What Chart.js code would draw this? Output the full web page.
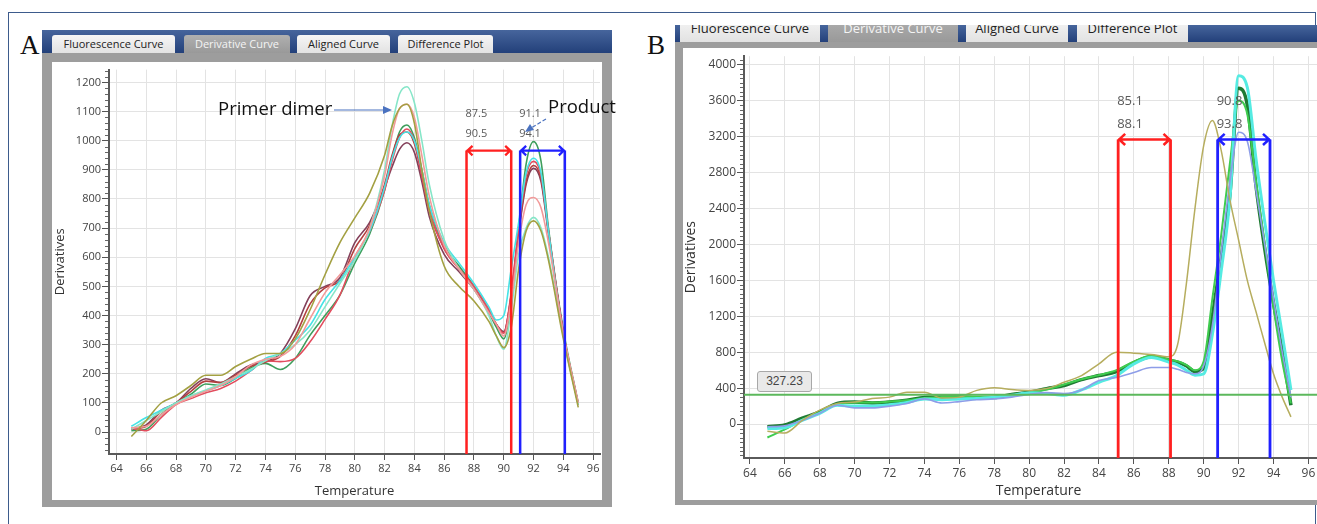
<!DOCTYPE html>
<html>
<head>
<meta charset="utf-8">
<script src="https://cdn.jsdelivr.net/npm/chart.js@4.4.0/dist/chart.umd.min.js"></script>
<style>
  html,body{margin:0;padding:0;background:#fff;overflow:hidden;width:1317px;height:524px;}
  body{position:relative;font-family:"Open Sans","Liberation Sans",sans-serif;}
  .abs{position:absolute;}
  .frame{position:absolute;left:8px;top:12px;width:1306px;height:530px;border:1.5px solid #3d5b8c;}
  .panelLabel{position:absolute;font-family:"Liberation Serif","DejaVu Serif",serif;font-size:27px;color:#111;}
  .bar{position:absolute;overflow:hidden;background:linear-gradient(#46659c,#23407a);}
  .tab{position:absolute;background:linear-gradient(#f6f6f6,#e2e2e2);color:#222;text-align:center;border-radius:3px 3px 0 0;white-space:nowrap;}
  .tab.active{background:linear-gradient(#b0b0b0,#999);color:#f4f4f4;}
  .grey{position:absolute;background:#9d9d9d;}
  .white{position:absolute;background:#fff;}
  .ann{position:absolute;font-family:"Open Sans","Liberation Sans",sans-serif;color:#111;white-space:nowrap;}
  .thr{position:absolute;left:757px;top:371px;width:53px;height:19px;border:1px solid #a8a8a8;border-radius:3px;background:#e9e9e9;font-size:12px;color:#444;text-align:center;line-height:19px;font-family:"Liberation Sans Narrow","Liberation Sans",sans-serif;}
</style>
</head>
<body>
<script>
// ---------------- DATA ----------------
// Panel A
const TEMPS_A = [65,66,67,68,69,70,71,72,73,74,75,76,77,78,79,80,81,82,82.5,83,83.5,84,84.5,85,86,87,88,89,89.5,90,90.5,91,91.5,92,92.5,93,94,95];
const A_AQUA   = [10,40,70,100,125,145,165,190,215,245,270,300,350,430,510,590,700,900,1050,1160,1185,1130,1000,850,660,560,490,400,330,285,420,610,700,737,700,600,330,95];
const A_OLIVE  = [-15,40,100,125,160,195,195,225,250,270,270,320,420,540,650,735,820,950,1050,1110,1125,1060,900,760,570,500,450,380,330,290,360,560,690,725,690,590,320,85];
const A_SALMON = [15,20,60,95,120,140,160,190,230,250,260,300,390,478,540,605,700,880,1020,1110,1125,1080,950,810,640,560,490,410,370,330,450,650,780,805,770,650,340,100];
const A_GREEN  = [5,10,60,100,130,165,160,185,220,236,215,253,333,400,470,580,680,830,940,1030,1054,1010,900,780,640,570,500,410,360,320,450,700,920,997,930,700,350,100];
const A_RED    = [15,5,50,95,115,135,150,175,210,245,242,253,310,387,470,600,690,830,930,1010,1040,1000,880,760,630,560,500,420,370,340,480,700,880,929,880,690,340,95];
const A_CYAN   = [20,50,75,100,125,141,160,185,210,253,270,316,367,455,520,600,690,840,940,1010,1030,1000,900,780,650,580,510,430,385,400,560,720,890,940,890,690,330,95];
const A_MAROON = [10,25,75,100,150,183,170,200,230,242,270,354,468,500,530,650,720,840,910,970,993,960,860,740,610,550,490,410,370,345,470,680,850,905,860,680,340,95];
const A_DKRED  = [10,20,70,100,140,175,170,195,225,240,260,330,440,495,520,630,710,850,950,1020,1030,990,880,760,630,560,500,420,370,340,470,690,860,915,870,690,340,95];
const A_XTICKS = [64,66,68,70,72,74,76,78,80,82,84,86,88,90,92,94,96];
const A_YTICKS = [0,100,200,300,400,500,600,700,800,900,1000,1100,1200];
const A_PRIMER_BAND  = [87.5, 90.5];
const A_PRODUCT_BAND = [91.1, 94.1];
const A_BAND_LEVEL = 966;

// Panel B
const TEMPS_B = [65,66,67,68,69,70,71,72,73,74,75,76,77,78,79,80,81,82,83,84,85,86,87,88,88.5,89,89.5,90,90.5,91,91.5,92,92.5,93,93.5,94,94.5,95];
const B_DKGREEN = [-30,-10,65,135,230,245,235,245,265,295,300,300,295,295,330,355,395,430,495,540,585,685,750,715,690,650,585,620,1200,1850,2550,3740,3550,2650,1950,1350,820,210];
const B_LTGREEN = [-150,-60,50,130,220,240,240,250,265,290,300,305,300,300,320,350,385,440,500,545,600,695,760,720,700,660,600,700,1400,2100,2900,3600,3450,2700,2000,1300,700,230];
const B_CYAN    = [-50,-40,40,120,210,200,200,215,240,280,270,280,285,300,320,350,340,320,380,465,540,670,740,690,660,600,545,560,1000,1700,2500,3880,3750,2950,2250,1600,1000,380];
const B_LTBLUE  = [-30,-20,40,120,210,180,180,200,230,280,235,250,270,280,300,330,350,340,380,485,520,575,630,630,610,575,560,650,1100,1900,2700,3250,3150,2600,2000,1400,800,300];
const B_OLIVE   = [-80,-100,40,155,230,245,285,300,355,355,290,300,375,405,385,375,395,465,540,670,800,790,775,750,880,1550,2400,3100,3380,3050,2500,2050,1600,1250,900,560,300,80];
const B_XTICKS = [64,66,68,70,72,74,76,78,80,82,84,86,88,90,92,94,96];
const B_YTICKS = [0,400,800,1200,1600,2000,2400,2800,3200,3600,4000];
const B_PRIMER_BAND  = [85.1, 88.1];
const B_PRODUCT_BAND = [90.8, 93.8];
const B_BAND_LEVEL = 3170;
const B_THRESHOLD = 327.23;
</script>

<div class="frame"></div>

<!-- Panel A chrome -->
<div class="panelLabel" style="left:20px;top:30px;">A</div>
<div class="bar" style="left:42px;top:30px;width:570px;height:23px;">
  <div class="tab" style="left:10px;top:5px;width:123px;height:18px;font-size:11px;line-height:18px;">Fluorescence Curve</div>
  <div class="tab active" style="left:142px;top:5px;width:106px;height:18px;font-size:11px;line-height:18px;">Derivative Curve</div>
  <div class="tab" style="left:255px;top:5px;width:93px;height:18px;font-size:11px;line-height:18px;">Aligned Curve</div>
  <div class="tab" style="left:356px;top:5px;width:95px;height:18px;font-size:11px;line-height:18px;">Difference Plot</div>
</div>
<div class="grey" style="left:42px;top:53px;width:570px;height:454px;"></div>
<div class="white" style="left:52px;top:62px;width:550px;height:438px;"><canvas id="cA"></canvas></div>

<!-- Panel B chrome -->
<div class="panelLabel" style="left:647px;top:30px;">B</div>
<div class="bar" style="left:675px;top:25px;width:660px;height:17px;">
  <div class="tab" style="left:5px;top:-8px;width:140px;height:25px;font-size:13px;line-height:22px;">Fluorescence Curve</div>
  <div class="tab active" style="left:153px;top:-8px;width:130px;height:25px;font-size:13px;line-height:22px;">Derivative Curve</div>
  <div class="tab" style="left:291px;top:-8px;width:102px;height:25px;font-size:13px;line-height:22px;">Aligned Curve</div>
  <div class="tab" style="left:402px;top:-8px;width:111px;height:25px;font-size:13px;line-height:22px;">Difference Plot</div>
</div>
<div class="grey" style="left:675px;top:42px;width:660px;height:463px;"></div>
<div class="white" style="left:683px;top:48px;width:650px;height:452px;"><canvas id="cB"></canvas></div>
<div class="thr">327.23</div>

<!-- annotations -->
<div class="ann" style="left:218px;top:95px;font-size:18.5px;">Primer dimer</div>
<div class="ann" style="left:548px;top:93px;font-size:18.5px;">Product</div>
<svg class="abs" style="left:0;top:0;pointer-events:none;" width="1317" height="524">
  <line x1="334" y1="110" x2="384" y2="110" stroke="#4a72c0" stroke-width="1.2"/>
  <polygon points="392,110 383,106 383,114" fill="#4a72c0"/>
  <line x1="546" y1="119" x2="531" y2="128" stroke="#4a72c0" stroke-width="1.2" stroke-dasharray="4 2"/>
  <polygon points="525,132 530,124 534,130" fill="#4a72c0"/>
</svg>

<script>
const FONT = '"Open Sans","Liberation Sans",sans-serif';

const bandPlugin = {
  id: 'bands',
  afterDatasetsDraw(chart, args, o) {
    if (!o || !o.pairs) return;
    const ctx = chart.ctx, xs = chart.scales.x, ys = chart.scales.y, ca = chart.chartArea;
    const yl = ys.getPixelForValue(o.level);
    ctx.save();
    o.pairs.forEach(p => {
      const xa = xs.getPixelForValue(p.band[0]), xb = xs.getPixelForValue(p.band[1]);
      ctx.strokeStyle = p.color; ctx.lineWidth = o.lw;
      ctx.beginPath();
      ctx.moveTo(xa, yl); ctx.lineTo(xa, ca.bottom);
      ctx.moveTo(xb, yl); ctx.lineTo(xb, ca.bottom);
      ctx.stroke();
      ctx.lineWidth = o.lw * 0.9;
      ctx.beginPath();
      ctx.moveTo(xa, yl); ctx.lineTo(xb, yl);
      const h = o.head;
      ctx.moveTo(xa + h, yl - h * 0.8); ctx.lineTo(xa + 1, yl); ctx.lineTo(xa + h, yl + h * 0.8);
      ctx.moveTo(xb - h, yl - h * 0.8); ctx.lineTo(xb - 1, yl); ctx.lineTo(xb - h, yl + h * 0.8);
      ctx.stroke();
      ctx.fillStyle = '#5a5a5a';
      ctx.font = o.fontSize + 'px ' + FONT;
      ctx.textAlign = 'left'; ctx.textBaseline = 'middle';
      ctx.fillText(p.band[0].toFixed(1), xa - 1, yl + o.dy[0]);
      ctx.fillText(p.band[1].toFixed(1), xa - 1, yl + o.dy[1]);
    });
    ctx.restore();
  }
};

const minorPlugin = {
  id: 'minor',
  afterDraw(chart, args, o) {
    if (!o || !o.step) return;
    const ctx = chart.ctx, ys = chart.scales.y, ca = chart.chartArea;
    ctx.save();
    ctx.strokeStyle = '#666'; ctx.lineWidth = 1;
    ctx.beginPath();
    const start = Math.ceil(ys.min / o.step) * o.step;
    for (let v = start; v <= ys.max; v += o.step) {
      if (Math.abs(v % o.major) < 1e-6) continue;
      const y = Math.round(ys.getPixelForValue(v)) + 0.5;
      ctx.moveTo(ca.left - 1, y); ctx.lineTo(ca.left - o.len, y);
    }
    ctx.stroke();
    ctx.restore();
  }
};

function series(temps, vals, color, width) {
  return {
    data: temps.map((t, i) => ({x: t, y: vals[i]})),
    borderColor: color, borderWidth: width || 1.6,
    pointRadius: 0, fill: false, cubicInterpolationMode: 'monotone'
  };
}

function makeChart(id, cfg) {
  return new Chart(document.getElementById(id), {
    type: 'line',
    data: {datasets: cfg.datasets},
    options: {
      responsive: true, maintainAspectRatio: false, animation: false,
      layout: {padding: cfg.padding},
      plugins: {legend: {display: false}, tooltip: {enabled: false},
        bands: cfg.bands, minor: cfg.minor},
      scales: {
        x: {
          type: 'linear', min: cfg.xmin, max: cfg.xmax,
          afterBuildTicks: s => { s.ticks = cfg.xticks.map(v => ({value: v})); },
          afterFit: s => { s.height = cfg.xh; },
          grid: {color: '#e3e3e3', lineWidth: 1, tickColor: '#555', tickLength: 6, tickWidth: 1},
          border: {color: '#5a5a5a', width: 2},
          ticks: {color: '#444', font: {family: FONT, size: cfg.tickSize}, padding: 2, maxRotation: 0, autoSkip: false,
            callback: v => String(v)},
          title: {display: true, text: 'Temperature', color: '#333', font: {family: FONT, size: cfg.titleSize}, padding: {top: 0, bottom: 1}}
        },
        y: {
          type: 'linear', min: cfg.ymin, max: cfg.ymax,
          afterBuildTicks: s => { s.ticks = cfg.yticks.map(v => ({value: v})); },
          afterFit: s => { s.width = cfg.yw; },
          grid: {color: '#e3e3e3', lineWidth: 1, tickColor: '#555', tickLength: 7, tickWidth: 1},
          border: {color: '#5a5a5a', width: 2},
          ticks: {color: '#444', font: {family: FONT, size: cfg.tickSize}, padding: 1,
            callback: v => String(v)},
          title: {display: true, text: 'Derivatives', color: '#333', font: {family: FONT, size: cfg.titleSize}, padding: {top: 0, bottom: 2}}
        }
      }
    },
    plugins: [bandPlugin, minorPlugin]
  });
}

makeChart('cA', {
  datasets: [
    series(TEMPS_A, A_OLIVE, '#a3a042'),
    series(TEMPS_A, A_SALMON, '#f29a9a'),
    series(TEMPS_A, A_AQUA, '#86e6c8'),
    series(TEMPS_A, A_CYAN, '#45e3e6'),
    series(TEMPS_A, A_RED, '#e24d5e'),
    series(TEMPS_A, A_DKRED, '#b34040'),
    series(TEMPS_A, A_MAROON, '#84405a'),
    series(TEMPS_A, A_GREEN, '#3e9e5c')
  ],
  padding: {left: 0, top: 1, right: 2, bottom: 0},
  xmin: 63.5, xmax: 96.46, ymin: -75, ymax: 1244,
  xticks: A_XTICKS, yticks: A_YTICKS, xh: 46, yw: 57,
  tickSize: 11, titleSize: 13,
  bands: {level: A_BAND_LEVEL, lw: 2.5, head: 6, fontSize: 11, dy: [-37, -17],
    pairs: [{band: A_PRIMER_BAND, color: '#ff2020'}, {band: A_PRODUCT_BAND, color: '#2020ff'}]},
  minor: {step: 20, major: 100, len: 4}
});

makeChart('cB', {
  datasets: [
    {data: [{x: 60, y: B_THRESHOLD}, {x: 100, y: B_THRESHOLD}], borderColor: '#5cb85c', borderWidth: 2, pointRadius: 0},
    series(TEMPS_B, B_OLIVE, '#b6ad5e', 1.5),
    series(TEMPS_B, B_LTBLUE, '#8d9de8', 1.6),
    series(TEMPS_B, B_CYAN, '#55ebe2', 3),
    series(TEMPS_B, B_LTGREEN, '#3fcc4f', 2),
    series(TEMPS_B, B_DKGREEN, '#1f7a33', 3.5)
  ],
  padding: {left: 0, top: 5, right: 0, bottom: 0},
  xmin: 63.66, xmax: 97.41, ymin: -378, ymax: 4097,
  xticks: B_XTICKS, yticks: B_YTICKS, xh: 42, yw: 61,
  tickSize: 12, titleSize: 14,
  bands: {level: B_BAND_LEVEL, lw: 2.8, head: 7, fontSize: 13, dy: [-38, -15],
    pairs: [{band: B_PRIMER_BAND, color: '#ff2020'}, {band: B_PRODUCT_BAND, color: '#2020ff'}]},
  minor: {step: 50, major: 400, len: 4}
});
</script>
</body>
</html>
